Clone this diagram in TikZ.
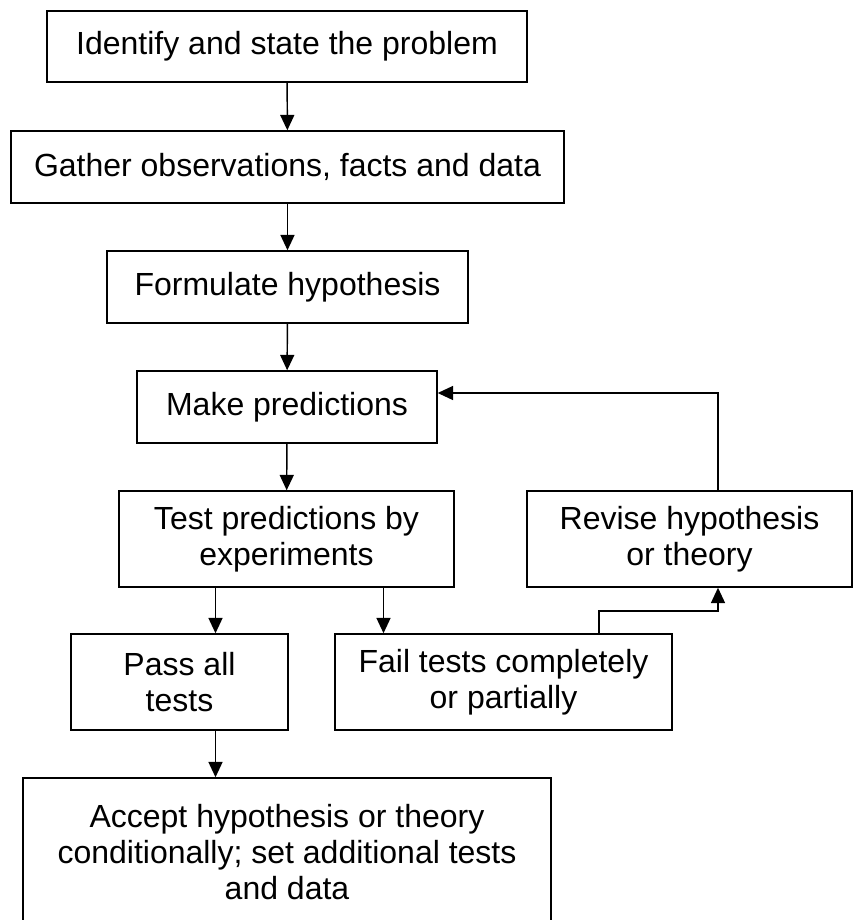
\documentclass[tikz,border=0pt]{standalone}
\usepackage{fontspec}
\setmainfont{Liberation Sans}
\usetikzlibrary{arrows.meta}

\begin{document}
\begin{tikzpicture}[x=0.75pt, y=-0.75pt,
  stage/.style={draw, line width=1.1pt, align=center, inner sep=0pt, font=\fontsize{24}{27}\selectfont},
  arr/.style={line width=1.1pt, -{Triangle[length=11.5pt, width=10.5pt]}}]
  \useasboundingbox (0,0) rectangle (853,920);
  \clip (0,0) rectangle (853,920);
  % main chain
  \node[stage, minimum width=360pt, minimum height=53.25pt] (identify) at (287,46.5) {Identify and state the problem};
  \node[stage, minimum width=414.75pt, minimum height=54pt] (gather) at (287.5,167) {Gather observations, facts and data};
  \node[stage, minimum width=270.75pt, minimum height=54pt] (formulate) at (287.5,287) {Formulate hypothesis};
  \node[stage, minimum width=225pt, minimum height=54pt] (predict) at (287,407) {Make predictions};
  \node[stage, minimum width=251.25pt, minimum height=72pt] (test) at (286.5,539) {Test predictions by\\experiments};
  % outcomes
  \node[stage, minimum width=162.75pt, minimum height=72pt] (pass) at (179.5,682) {Pass all\\tests};
  \node[stage, minimum width=252.75pt, minimum height=72pt] (fail) at (503.5,682) {Fail tests completely\\or partially};
  \node[stage, minimum width=243.75pt, minimum height=72pt] (revise) at (689.5,539) {Revise hypothesis\\or theory};
  \node[stage, minimum width=396pt, minimum height=111pt] (accept) at (287,852) {Accept hypothesis or theory\\conditionally; set additional tests\\and data};

  \coordinate (leftx) at (215.5,0);
  \coordinate (rightx) at (383.5,0);
  \coordinate (failx) at (599,0);
  \coordinate (revisex) at (718,0);
  \coordinate (bendy) at (0,611);
  \coordinate (loopy) at (0,393);

  \draw[arr] (identify) -- (gather);
  \draw[arr] (gather) -- (formulate);
  \draw[arr] (formulate) -- (predict);
  \draw[arr] (predict) -- (test);
  \draw[arr] (test.south -| leftx) -- (pass.north -| leftx);
  \draw[arr] (test.south -| rightx) -- (fail.north -| rightx);
  \draw[arr] (pass.south -| leftx) -- (accept.north -| leftx);
  % feedback loop
  \draw[arr] (fail.north -| failx) -- (failx |- bendy) -| (revise.south -| revisex);
  \draw[arr] (revise.north -| revisex) |- (predict.east |- loopy);
\end{tikzpicture}
\end{document}
